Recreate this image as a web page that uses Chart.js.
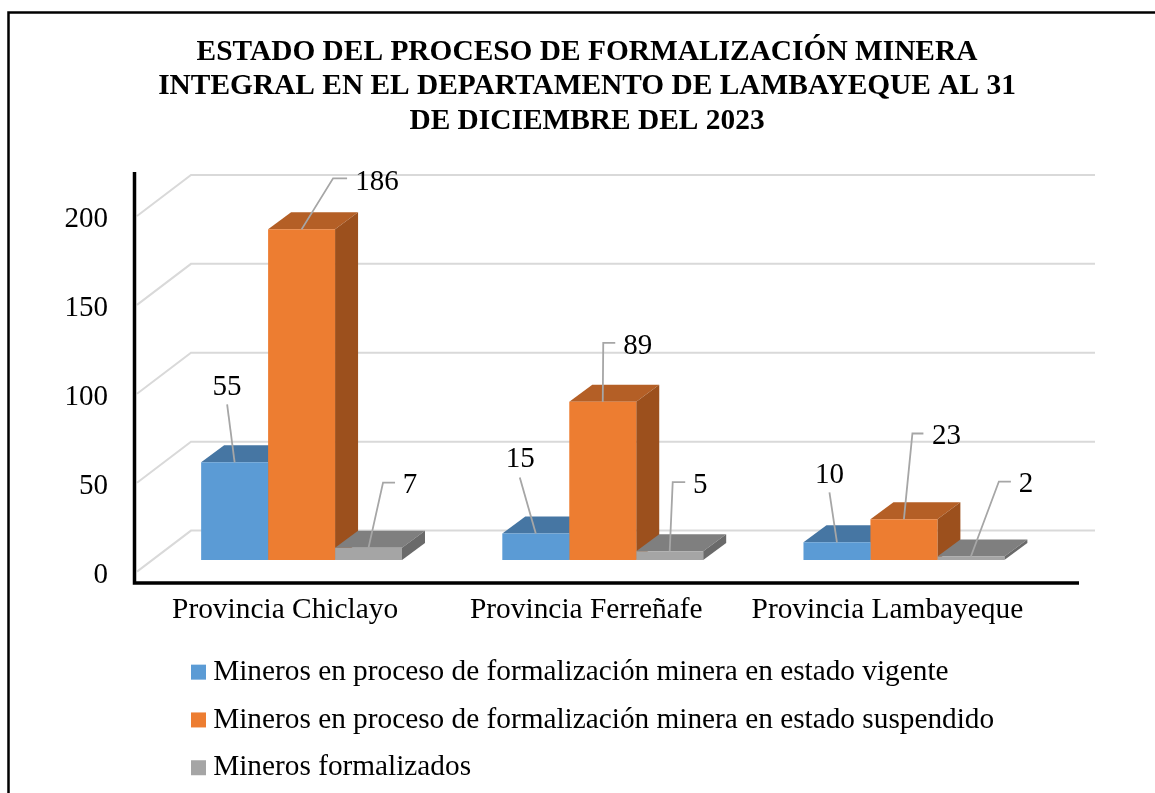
<!DOCTYPE html>
<html>
<head>
<meta charset="utf-8">
<style>
    html, body { margin: 0; padding: 0; background: #fff; }
    canvas { display: block; }
</style>
<script src="https://cdn.jsdelivr.net/npm/chart.js@4"></script>
</head>
<body>
<canvas id="chart" width="1155" height="793"></canvas>
<script>
var categories = ["Provincia Chiclayo", "Provincia Ferreñafe", "Provincia Lambayeque"];
var vigente = [55, 15, 10];
var suspendido = [186, 89, 23];
var formalizados = [7, 5, 2];
var y_ticks = [0, 50, 100, 150, 200];

var title_lines = [
    "ESTADO DEL PROCESO DE FORMALIZACIÓN MINERA",
    "INTEGRAL EN EL DEPARTAMENTO DE LAMBAYEQUE AL 31",
    "DE DICIEMBRE DEL 2023"
];

var serif = "Liberation Serif";
var depth_x = 23;
var depth_y = 17;

// Leader lines, relative to the top centre of each bar:
// elbow dx, elbow dy, tail length, label dx, label dy
var leaders = [
    [[-7.5, -58, 0, -7.5, -75], [-16, -56, 0, -15.5, -74], [-7.5, -50, 0, -7.5, -67]],
    [[31.5, -51, 14, 75.5, -47], [0.5, -59, 12, 35, -55.5], [8.5, -85.7, 11, 42.5, -82.7]],
    [[14.5, -65, 12, 41.5, -62], [3, -69, 12.5, 30.5, -65.5], [28, -75, 12, 55, -72]]
];

var front_colors = ["#5B9BD5", "#ED7D31", "#A5A5A5"];
var top_colors = ["#4676A3", "#B45F26", "#7F7F7F"];
var side_colors = ["#3A638A", "#9C501D", "#6A6A6A"];

function fill_poly (ctx, color, points) {
    ctx.fillStyle = color;
    ctx.beginPath();
    ctx.moveTo(points[0][0], points[0][1]);

    for (var i = 1; i < points.length; i++) {
        ctx.lineTo(points[i][0], points[i][1]);
    }

    ctx.closePath();
    ctx.fill();
}

var frame_plugin = {
    id: "frame_plugin",
    afterLayout: function (chart) {
        // Legend is left aligned under the plot, not across the full width
        chart.legend.left = 180;
        chart.legend.right = 1155;
        chart.legend.top = 639;

        // Title centres on the frame, not on the plot
        chart.titleBlock.left = 19;
        chart.titleBlock.right = 1155;
    },
    beforeDatasetsDraw: function (chart) {
        var ctx = chart.ctx;
        var y = chart.scales.y;
        var area = chart.chartArea;

        ctx.save();

        // Outer frame, only top and left are inside the picture
        ctx.strokeStyle = "#000";
        ctx.lineWidth = 2.5;
        ctx.beginPath();
        ctx.moveTo(8.5, 793);
        ctx.lineTo(8.5, 12.5);
        ctx.lineTo(1155, 12.5);
        ctx.stroke();

        // Walls
        ctx.strokeStyle = "#D9D9D9";
        ctx.lineWidth = 2;

        y.ticks.forEach(function (tick) {
            var py = y.getPixelForValue(tick.value);

            ctx.beginPath();
            ctx.moveTo(area.left - 14, py + 11.5);
            ctx.lineTo(area.left + 40, py - 29.5);
            ctx.lineTo(area.right + 40.5, py - 29.5);
            ctx.stroke();
        });

        // Black axes
        ctx.strokeStyle = "#000";
        ctx.lineWidth = 3.5;
        ctx.beginPath();
        ctx.moveTo(134.5, 172);
        ctx.lineTo(134.5, area.bottom + 23);
        ctx.lineTo(1079, area.bottom + 23);
        ctx.stroke();

        // Top and side faces, chart.js paints the front faces over these
        chart.data.datasets.forEach(function (dataset, s) {
            chart.getDatasetMeta(s).data.forEach(function (bar) {
                var left = bar.x - bar.width / 2;
                var right = bar.x + bar.width / 2;

                fill_poly(ctx, top_colors[s], [
                    [left, bar.y],
                    [left + depth_x, bar.y - depth_y],
                    [right + depth_x, bar.y - depth_y],
                    [right, bar.y]
                ]);

                fill_poly(ctx, side_colors[s], [
                    [right, bar.y],
                    [right + depth_x, bar.y - depth_y],
                    [right + depth_x, bar.base - depth_y],
                    [right, bar.base]
                ]);
            });
        });

        ctx.restore();
    },
    afterDatasetsDraw: function (chart) {
        var ctx = chart.ctx;

        ctx.save();

        chart.data.datasets.forEach(function (dataset, s) {
            chart.getDatasetMeta(s).data.forEach(function (bar, i) {
                var leader = leaders[s][i];
                var elbow_x = bar.x + leader[0];
                var elbow_y = bar.y + leader[1];

                ctx.strokeStyle = "#A6A6A6";
                ctx.lineWidth = 1.8;
                ctx.beginPath();
                ctx.moveTo(bar.x, bar.y);
                ctx.lineTo(elbow_x, elbow_y);
                ctx.lineTo(elbow_x + leader[2], elbow_y);
                ctx.stroke();

                ctx.fillStyle = "#000";
                ctx.font = "29px '" + serif + "'";
                ctx.textAlign = "center";
                ctx.textBaseline = "middle";
                ctx.fillText(dataset.data[i], bar.x + leader[3], bar.y + leader[4]);
            });
        });

        ctx.restore();
    }
};

new Chart(document.getElementById("chart").getContext("2d"), {
    type: "bar",
    plugins: [frame_plugin],
    data: {
        labels: categories,
        datasets: [
            {label: "Mineros en proceso de formalización minera en estado vigente", data: vigente, backgroundColor: front_colors[0]},
            {label: "Mineros en proceso de formalización minera en estado suspendido", data: suspendido, backgroundColor: front_colors[1]},
            {label: "Mineros formalizados", data: formalizados, backgroundColor: front_colors[2]}
        ]
    },
    options: {
        responsive: false,
        animation: false,
        layout: {
            padding: {left: 19, right: 100.5, top: 0, bottom: 0}
        },
        datasets: {
            bar: {barPercentage: 1, categoryPercentage: 0.667}
        },
        scales: {
            x: {
                grid: {display: false},
                border: {display: false},
                afterFit: function (scale) {
                    scale.height = 79.5;
                },
                ticks: {
                    color: "#000",
                    padding: 25,
                    labelOffset: -16.5,
                    maxRotation: 0,
                    autoSkip: false,
                    font: {family: serif, size: 29.4}
                }
            },
            y: {
                min: 0,
                max: 200,
                grid: {display: false},
                border: {display: false},
                afterFit: function (scale) {
                    scale.width = 132;
                },
                afterBuildTicks: function (scale) {
                    scale.ticks = y_ticks.map(function (value) {
                        return {value: value};
                    });
                },
                ticks: {
                    color: "#000",
                    padding: 35,
                    labelOffset: 15,
                    font: {family: serif, size: 29}
                }
            }
        },
        plugins: {
            tooltip: {enabled: false},
            title: {
                display: true,
                text: title_lines,
                color: "#000",
                padding: {top: 35, bottom: 66},
                font: {family: serif, size: 29.4, weight: "bold", lineHeight: 1.173}
            },
            legend: {
                display: true,
                position: "bottom",
                align: "start",
                maxWidth: 900,
                labels: {
                    color: "#000",
                    // Tiny boxWidth with a point style keeps the swatch close to the text
                    usePointStyle: true,
                    pointStyle: "rect",
                    boxWidth: 0.01,
                    boxHeight: 15,
                    padding: 18.5,
                    font: {family: serif, size: 29.3}
                }
            }
        }
    }
});
</script>
</body>
</html>
